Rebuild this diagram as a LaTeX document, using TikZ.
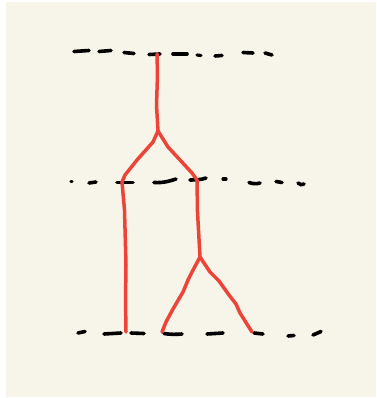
\documentclass[tikz,border=0pt]{standalone}
\definecolor{paper}{HTML}{F7F5E9}
\definecolor{inkred}{HTML}{EC4437}
\tikzset{
  dashmark/.style={line width=3.6pt, line cap=round, black},
  dotmark/.style={line width=3.2pt, line cap=round, black},
  branch/.style={line width=3.5pt, line cap=round, line join=round, inkred},
}
\begin{document}
\begin{tikzpicture}[x=1pt,y=-1pt]
\useasboundingbox (0,0) rectangle (376,398);
\fill[paper] (6,2) rectangle (376,397);
% top dashed line
\draw[dashmark] (74,51.5) -- (89,50.5);
\draw[dashmark] (99,51.5) -- (111,50.5);
\draw[dashmark] (124,52.5) -- (134,53.5);
\draw[dashmark] (149,54.5) -- (160,54);
\draw[dashmark] (173,54) -- (187,54);
\draw[dotmark] (197,55) -- (201,55.5);
\draw[dashmark] (215,56) -- (222,55.5);
\draw[dashmark] (243,52.5) -- (253,53);
\draw[dashmark] (265,53) -- (272,55);
% middle dashed line
\draw[dotmark] (71,181.5) -- (72,181.5);
\draw[dashmark] (89,183) -- (96,182);
\draw[dashmark] (117,182.5) -- (133,182.5);
\draw[dashmark] (154,182.5) .. controls (164,183) and (170,181) .. (176,179);
\draw[dashmark] (190,180) .. controls (197,180) and (202,179.5) .. (206,178);
\draw[dotmark] (223,179) -- (226,179);
\draw[dashmark] (249,182.5) .. controls (253,184) and (257,184) .. (260,183);
\draw[dashmark] (276,181.5) -- (282,182.5);
\draw[dashmark] (298,183) .. controls (300,185) and (302,185) .. (304,184);
% bottom dashed line
\draw[dashmark] (78,333) -- (85,331.5);
\draw[dashmark] (104,334) -- (121,333);
\draw[dashmark] (131,333) -- (144,333.5);
\draw[dashmark] (164,333.5) .. controls (170,334.5) and (176,334.5) .. (182,334);
\draw[dashmark] (207,334) -- (223,333);
\draw[dashmark] (254,333) -- (263,334);
\draw[dashmark] (288,336) -- (294,335.5);
\draw[dashmark] (313,335) -- (321,331.5);
% red tree
\coordinate (top) at (157,54);
\coordinate (f1) at (158,131);
\coordinate (l1) at (122,182);
\coordinate (r1) at (197,180);
\coordinate (lb) at (126,332);
\coordinate (f2) at (200,257);
\coordinate (l2) at (162,332);
\coordinate (r2) at (252,332);
\draw[branch] (top) -- (157.5,75) -- (156.5,105) -- (f1);
\draw[branch] (f1) -- (153,142) -- (137,160) -- (125,175) -- (l1);
\draw[branch] (f1) -- (168,147) -- (180,160) -- (192,173) -- (r1);
\draw[branch] (l1) -- (124.5,210) -- (126,265) -- (125.5,300) -- (lb);
\draw[branch] (r1) -- (197.5,212) -- (f2);
\draw[branch] (f2) -- (192,272) -- (188,280) -- (183,292) -- (173,309) -- (166,322) -- (l2);
\draw[branch] (f2) -- (210,272) -- (219,281) -- (229,295) -- (236,304) -- (240,313) -- (r2);
\end{tikzpicture}
\end{document}
